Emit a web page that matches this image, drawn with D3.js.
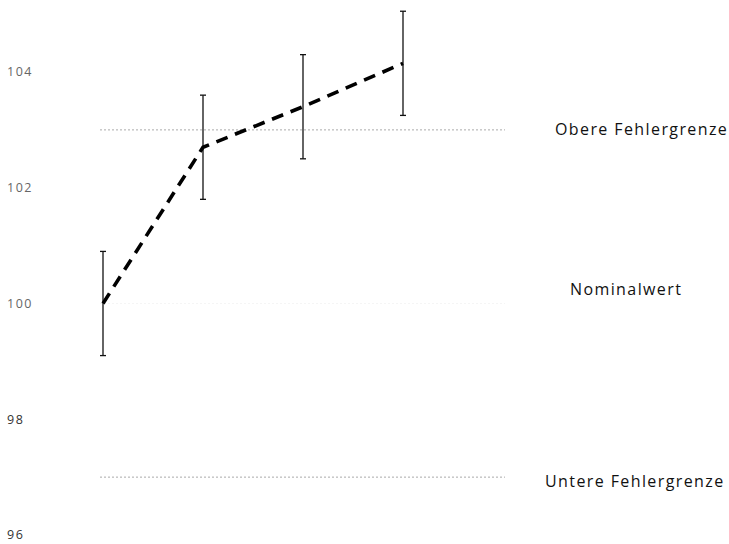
<!DOCTYPE html>
<html>
<head>
<meta charset="UTF-8">
<script src="https://d3js.org/d3.v7.min.js"></script>
<style>
  body { margin: 0; background: #fff; }
  .tick-label { font: 12.5px "Open Sans", sans-serif; fill: #555; letter-spacing: 1.5px; }
  .ref-label { font: 16px "Open Sans", sans-serif; fill: #111; letter-spacing: 1.4px; }
  .ref { stroke: #aaa; stroke-width: 1; stroke-dasharray: 2, 2; fill: none; }
  .err { stroke: #111; stroke-width: 1.3; }
  .line { fill: none; stroke: #000; stroke-width: 3.6; stroke-dasharray: 12, 8; }
</style>
</head>
<body>
<script>

var samples = [1, 2, 3, 4];
var values = [100.0, 102.7, 103.4, 104.15];
var errors = [0.9, 0.9, 0.9, 0.9];
var yTicks = [96, 98, 100, 102, 104];
var refValues = [103, 100, 97];
var refLabels = ["Obere Fehlergrenze", "Nominalwert", "Untere Fehlergrenze"];

var width = 729, height = 544;

var x = d3.scaleLinear().domain([1, 4]).range([103, 403]);
var y = d3.scaleLinear().domain([96, 104]).range([535, 72]);

var svg = d3.select("body").append("svg")
    .attr("width", width)
    .attr("height", height);

// y tick labels, no axis line
svg.selectAll(".tick-label")
    .data(yTicks)
    .enter().append("text")
    .attr("class", "tick-label")
    .attr("x", 7)
    .attr("y", function (d) { return y(d); })
    .attr("dy", "0.35em")
    .style("fill", function (d) { return d < 100 ? "#333" : "#666"; })
    .text(function (d) { return d; });

// reference lines
svg.selectAll(".ref")
    .data(refValues)
    .enter().append("line")
    .attr("class", "ref")
    .attr("x1", x(0.97))
    .attr("x2", x(5.02))
    .attr("y1", function (d) { return y(d); })
    .attr("y2", function (d) { return y(d); })
    .style("stroke-opacity", function (d, i) { return i == 1 ? 0.12 : 1; });

var labelX = [555, 570, 545];
var labelDy = [0, -14, 4];
svg.selectAll(".ref-label")
    .data(refValues)
    .enter().append("text")
    .attr("class", "ref-label")
    .attr("x", function (d, i) { return labelX[i]; })
    .attr("y", function (d, i) { return y(d) + labelDy[i]; })
    .attr("dy", "0.35em")
    .text(function (d, i) { return refLabels[i]; });

// error bars
var bars = svg.selectAll(".errbar")
    .data(samples)
    .enter().append("g")
    .attr("class", "errbar");

bars.append("line")
    .attr("class", "err")
    .attr("x1", function (d) { return x(d); })
    .attr("x2", function (d) { return x(d); })
    .attr("y1", function (d, i) { return y(values[i] + errors[i]); })
    .attr("y2", function (d, i) { return y(values[i] - errors[i]); });

bars.selectAll(".cap")
    .data(function (d, i) {
        return [[d, values[i] + errors[i]], [d, values[i] - errors[i]]];
    })
    .enter().append("line")
    .attr("class", "err cap")
    .attr("x1", function (d) { return x(d[0]) - 3; })
    .attr("x2", function (d) { return x(d[0]) + 3; })
    .attr("y1", function (d) { return y(d[1]); })
    .attr("y2", function (d) { return y(d[1]); });

// dashed mean line
var line = d3.line()
    .x(function (d) { return x(d); })
    .y(function (d, i) { return y(values[i]); });

svg.append("path")
    .datum(samples)
    .attr("class", "line")
    .attr("d", line);

</script>
</body>
</html>
